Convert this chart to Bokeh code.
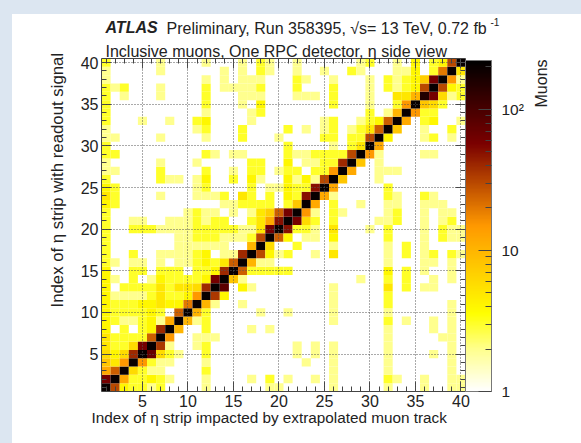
from bokeh.embed import file_html
from bokeh.resources import INLINE
from bokeh.plotting import figure
from bokeh.models import (ColumnDataSource, LogColorMapper, ColorBar, FixedTicker, Label,
                          LinearAxis, Range1d)

# index: row number (y strip); {column (x strip): muons}
row_01 = {1:200,2:30,3:4,4:3,5:3,6:2,7:3,12:2,19:2,20:2,26:2,32:2,36:2,39:2,40:2}
row_02 = {1:60,2:200,3:12,4:3,5:3,6:4,7:3,8:2,12:2,17:2,19:3,21:2,24:2,26:2,32:3,33:2,36:2,39:2,40:2}
row_03 = {1:12,2:25,3:200,4:6,5:3,6:2,7:2,12:3,26:2,32:2,39:2}
row_04 = {1:8,2:5,3:15,4:200,5:15,6:3,7:2,8:2,12:2,23:2,26:2,32:2,39:2}
row_05 = {1:6,2:4,3:6,4:40,5:200,6:70,7:6,8:3,9:2,12:3,22:2,24:2,26:2,32:2,37:2,39:2}
row_06 = {1:5,2:3,3:3,4:6,5:60,6:200,7:35,8:2,11:2,12:3,22:2,24:2,26:2,32:2,39:2}
row_07 = {1:5,2:3,3:3,4:3,5:3,6:25,7:200,8:15,11:2,12:2,13:2,32:2,38:2,39:2}
row_08 = {1:4,3:3,5:3,6:4,7:40,8:200,9:10,12:3,17:2,19:2,32:2,37:2,39:2}
row_09 = {1:4,2:3,3:2,4:2,5:3,6:4,7:2,8:12,9:200,10:10,11:2,12:3,26:2,32:3,34:2,37:2,39:2}
row_10 = {1:4,2:3,3:3,4:3,5:3,6:4,7:3,9:25,10:200,11:10,12:3,18:2,21:2,26:2,32:2,39:2}
row_11 = {1:4,2:3,3:3,4:3,5:4,6:4,7:5,8:4,9:4,10:20,11:200,12:10,13:2,16:2,26:2,32:3,39:2}
row_12 = {1:4,2:2,3:2,4:2,5:2,6:3,7:5,8:3,9:3,10:4,11:15,12:200,13:35,14:4,26:2,32:3}
row_13 = {1:4,3:3,4:3,5:3,6:3,7:5,8:3,9:5,10:5,11:6,12:40,13:200,14:80,16:4,17:2,26:2,32:5,34:3,36:2,37:2}
row_14 = {1:4,2:2,4:3,6:2,7:4,8:3,9:3,10:3,11:3,12:4,13:60,14:200,15:8,16:2,29:2,32:3,34:3,37:2,39:2}
row_15 = {1:4,4:3,5:3,7:3,8:3,9:3,11:3,12:3,13:4,14:40,15:200,16:25,17:3,18:3,19:3,20:3,21:3,32:4,34:3,36:2,39:2}
row_16 = {1:3,2:2,4:2,5:2,7:2,9:2,10:2,11:3,12:4,13:3,14:5,15:25,16:200,17:10,18:2,19:2,32:2,36:2,37:2,39:2}
row_17 = {1:3,4:3,7:2,8:2,9:2,10:2,11:3,12:4,14:2,15:2,16:40,17:200,18:30,19:4,20:2,21:3,24:2,26:5,32:2,34:3,36:2,37:3,39:3,40:2}
row_18 = {1:3,9:2,10:2,11:2,12:2,13:2,14:2,17:10,18:200,19:6,22:3,26:2,32:2,34:3,36:2}
row_19 = {1:3,9:2,10:2,11:3,12:3,13:3,14:2,15:2,16:2,17:3,18:30,19:200,20:25,21:4,23:2,24:2,26:4,32:3,36:2,38:3,39:2,40:2}
row_20 = {1:3,4:3,5:3,6:3,7:2,8:2,9:2,10:2,11:3,12:3,13:3,14:3,15:3,16:2,17:2,18:5,19:60,20:200,21:50,22:3,23:3,24:2,26:5,30:2,32:3,36:2,38:3,39:2,40:2}
row_21 = {1:3,4:2,5:2,8:2,9:2,10:2,11:3,12:2,13:3,14:3,17:3,18:5,19:12,20:50,21:200,22:60,23:6,24:3,26:3,31:2,32:2,33:3,36:2,38:2,39:3}
row_22 = {1:3,10:2,11:3,12:2,13:2,15:2,17:2,18:5,19:7,20:25,21:60,22:200,23:15,24:2,26:3,27:2,32:2,33:3,36:2,38:2,39:2}
row_23 = {1:4,2:3,14:2,15:2,16:3,17:3,18:3,19:3,21:3,22:8,23:200,24:12,26:3,29:2,32:2,33:2,36:2,37:2,38:2}
row_24 = {1:5,2:3,7:2,11:2,12:2,13:2,14:3,16:5,17:3,19:3,21:4,22:3,23:50,24:200,25:12,26:2,32:3,33:2,36:3,37:2}
row_25 = {1:4,2:3,11:2,12:3,17:3,19:2,20:2,21:4,22:3,23:3,24:50,25:200,26:12,32:3}
row_26 = {1:3,7:3,8:2,9:2,11:2,12:4,15:3,17:4,18:2,21:4,22:2,23:4,24:2,25:30,26:200,27:8,31:2}
row_27 = {1:2,2:2,7:3,12:3,15:2,17:3,18:3,20:2,21:3,22:3,24:3,25:3,26:15,27:200,28:12,31:2,32:2,33:2}
row_28 = {1:2,7:2,11:2,17:3,18:3,21:4,23:2,24:2,25:3,26:3,27:40,28:200,29:8,31:2}
row_29 = {1:3,2:3,12:3,13:2,15:2,16:2,21:3,22:2,23:2,24:3,25:3,26:3,27:3,28:30,29:200,30:15,31:2,36:2,37:2}
row_30 = {1:3,21:3,26:2,28:3,29:5,30:200,31:12}
row_31 = {1:2,2:2,7:2,12:2,16:3,20:2,25:3,26:3,28:3,29:3,30:30,31:200,32:4,36:2,37:3,39:2}
row_32 = {1:2,11:2,12:3,16:3,21:3,23:2,25:2,26:3,28:2,29:3,30:5,31:25,32:200,33:8,36:2,39:3}
row_33 = {1:3,5:2,8:2,11:3,12:4,17:2,25:2,26:3,29:2,30:3,31:4,32:25,33:200,34:12,36:3,37:4,40:2}
row_34 = {1:3,12:2,17:2,18:3,30:3,32:2,33:10,34:200,35:15,36:3,37:3}
row_35 = {1:3,12:3,16:2,18:4,26:3,30:2,33:3,34:15,35:200,36:8,37:6,38:3}
row_36 = {1:3,3:2,7:2,12:3,16:2,17:2,18:2,22:2,23:2,24:2,26:3,30:2,33:5,34:5,35:10,36:150,37:60,38:6,39:2,40:3}
row_37 = {1:3,2:2,3:3,7:2,12:3,14:2,15:2,16:2,17:2,18:3,22:3,26:3,30:2,32:3,33:2,34:3,35:4,36:30,37:200,38:30,39:4,40:3}
row_38 = {1:2,12:2,14:2,16:2,17:2,18:2,22:3,23:2,26:2,30:2,32:3,33:2,34:3,35:4,36:7,37:60,38:200,39:15,40:2}
row_39 = {1:2,7:2,14:2,16:2,18:3,19:2,22:2,25:2,28:3,29:2,33:2,34:2,35:4,37:3,38:20,39:200,40:5}
row_40 = {1:3,7:2,12:2,16:2,18:3,19:2,22:2,29:2,30:3,33:2,35:4,37:3,38:4,39:30,40:200}

rows = [row_01,row_02,row_03,row_04,row_05,row_06,row_07,row_08,row_09,row_10,
        row_11,row_12,row_13,row_14,row_15,row_16,row_17,row_18,row_19,row_20,
        row_21,row_22,row_23,row_24,row_25,row_26,row_27,row_28,row_29,row_30,
        row_31,row_32,row_33,row_34,row_35,row_36,row_37,row_38,row_39,row_40]
major_ticks = [5,10,15,20,25,30,35,40]
minor_ticks = list(range(1,41))
cbar_minor = [2,3,4,5,6,7,8,9,20,30,40,50,60,70,80,90,200]
x_title = "Index of η strip impacted by extrapolated muon track"
y_title = "Index of η strip with readout signal"
line1_a = "ATLAS"
line1_b = "Preliminary, Run 358395, √s= 13 TeV, 0.72 fb"
line1_sup = "-1"
line2 = "Inclusive muons, One RPC detector, η side view"
z_title = "Muons"

stops = [(0.0,(255,255,255)),(0.128,(255,255,140)),(0.235,(255,255,0)),(0.5,(255,153,0)),(0.75,(122,0,0)),(1.0,(0,0,0))]
def pal(n=256):
    out=[]
    for i in range(n):
        t=i/(n-1)
        for (a,ca),(b,cb) in zip(stops,stops[1:]):
            if t<=b:
                f=(t-a)/(b-a)
                c=[int(round(u+(v-u)*f)) for u,v in zip(ca,cb)]
                out.append("#%02x%02x%02x"%tuple(c))
                break
    return out

xs,ys,zs=[],[],[]
for j,r in enumerate(rows,1):
    for i,v in r.items():
        xs.append(i);ys.append(j);zs.append(v)
src=ColumnDataSource(dict(x=xs,y=ys,z=zs))
mapper=LogColorMapper(palette=pal(),low=1,high=222)

FONT="Liberation Sans"
INK="#222222"
AX="#444444"
p=figure(width=581,height=443,output_backend="svg",toolbar_location=None,
         x_range=Range1d(0.5,40.5),y_range=Range1d(0.5,40.5),
         min_border_left=101,min_border_right=116,min_border_top=58,min_border_bottom=52,
         border_fill_color=None,background_fill_color="white")
p.rect("x","y",width=1,height=1,source=src,fill_color={"field":"z","transform":mapper},line_color=None)

ticker=FixedTicker(ticks=major_ticks,minor_ticks=minor_ticks)
for ax in (p.xaxis[0],p.yaxis[0]):
    ax.ticker=ticker
    ax.major_tick_in=10;ax.major_tick_out=0
    ax.minor_tick_in=5;ax.minor_tick_out=0
    ax.major_tick_line_color=AX;ax.minor_tick_line_color=AX
    ax.axis_line_color=AX
    ax.major_label_text_font=FONT;ax.major_label_text_font_size="16px";ax.major_label_text_color=INK
p.xaxis[0].major_label_standoff=3
p.yaxis[0].major_label_standoff=3

for side in ("above","right"):
    a=LinearAxis(ticker=ticker,major_label_text_font_size="0px",major_label_text_color=None,
                 major_tick_in=10,major_tick_out=0,minor_tick_in=5,minor_tick_out=0,
                 major_tick_line_color=AX,minor_tick_line_color=AX,axis_line_color=AX,
                 major_label_standoff=0)
    p.add_layout(a,side)

p.xgrid.ticker=ticker;p.ygrid.ticker=ticker
for g in (p.xgrid[0],p.ygrid[0]):
    g.grid_line_color="#555555";g.grid_line_dash="1 2";g.grid_line_width=1;g.level="overlay"
p.outline_line_color=None

cb=ColorBar(color_mapper=mapper,width=26,height=331,padding=0,margin=7,location=(0,0),
            ticker=FixedTicker(ticks=[1,10,100],minor_ticks=cbar_minor),
            major_label_overrides={1:"1",10:"10",100:"10²"},
            major_tick_in=13,minor_tick_in=6,
            major_tick_line_color="#444444",minor_tick_line_color="#444444",
            bar_line_color="#777777",
            major_label_text_font=FONT,major_label_text_font_size="15.5px",major_label_text_color=INK,
            label_standoff=10,background_fill_color=None,border_line_color=None)
p.add_layout(cb,"right")

def lab(text,x,y,side,size="16px",style="normal",angle=0):
    l=Label(text=text,x=x,y=y,x_units="screen",y_units="screen",text_font=FONT,text_font_size=size,
            text_font_style=style,text_color=INK,angle=angle,text_align="left",text_baseline="alphabetic")
    p.add_layout(l,side)
lab(line1_a,4,31,"above",style="bold italic")
lab(line1_b,65,13,"above")
lab(line2,4,-27,"above")
lab(z_title,15,284,"right",size="16px",angle=1.5708)
lab(line1_sup,-53,370,"right",size="10px")
lab(x_title,-10,9,"below",size="15.3px")
lab(y_title,-1,84,"left",size="16.8px",angle=1.5708)

html=file_html(p,INLINE)
css='<style>html{background:linear-gradient(#fff,#fff) 12px 14px/100% 100% no-repeat #dce6f1 !important}body{background:transparent !important}</style></head>'
html=html.replace("</head>",css,1)
open("out.html","w").write(html)
